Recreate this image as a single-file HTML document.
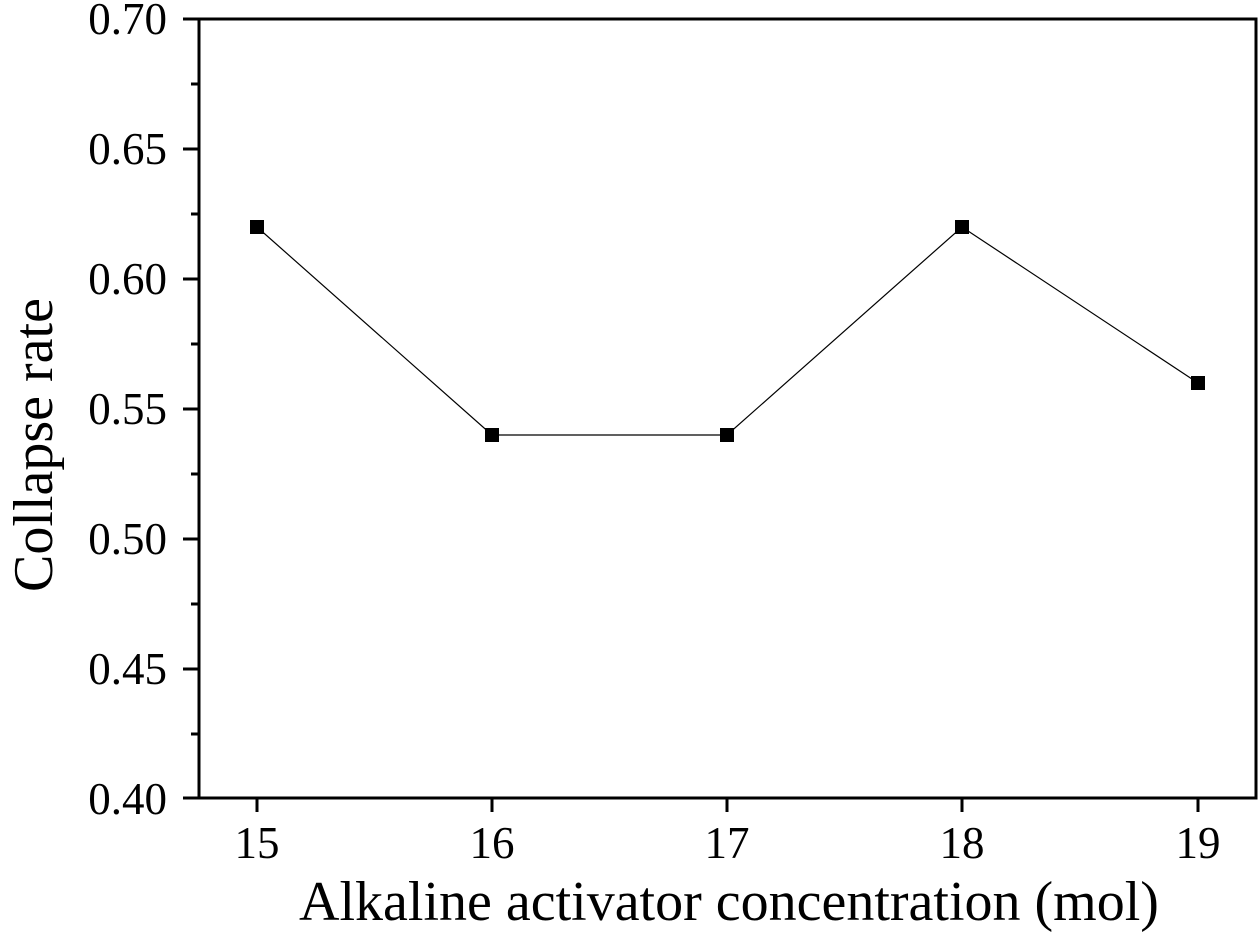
<!DOCTYPE html>
<html><head><style>body{margin:0;background:#fff}svg{display:block}</style></head><body>
<svg width="1260" height="933" xmlns="http://www.w3.org/2000/svg" font-family="Liberation Serif, serif">
<rect width="1260" height="933" fill="#fff"/>
<g stroke="#000" stroke-width="3" fill="none">
<rect x="199" y="19" width="1057" height="779"/>
<path d="M183 19H199M183 149H199M183 279H199M183 409H199M183 539H199M183 669H199M183 798H199"/>
<path d="M191 84H199M191 214H199M191 344H199M191 474H199M191 604H199M191 734H199"/>
<path d="M257 798V812M492 798V812M727 798V812M962 798V812M1198 798V812"/>
</g>
<g font-size="45" text-anchor="end" fill="#000">
<text x="167" y="34">0.70</text>
<text x="167" y="164">0.65</text>
<text x="167" y="294">0.60</text>
<text x="167" y="424">0.55</text>
<text x="167" y="554">0.50</text>
<text x="167" y="684">0.45</text>
<text x="167" y="814">0.40</text>
</g>
<g font-size="45" text-anchor="middle" fill="#000">
<text x="257" y="858">15</text>
<text x="492" y="858">16</text>
<text x="727" y="858">17</text>
<text x="962" y="858">18</text>
<text x="1198" y="858">19</text>
<text x="729" y="920" font-size="56">Alkaline activator concentration (mol)</text>
<text transform="translate(52,445) rotate(-90)" font-size="56">Collapse rate</text>
</g>
<polyline points="257,227 492,435 727,435 962,227 1198,383" fill="none" stroke="#000" stroke-width="1.2"/>
<g fill="#000">
<rect x="250" y="220" width="14" height="14"/>
<rect x="485" y="428" width="14" height="14"/>
<rect x="720" y="428" width="14" height="14"/>
<rect x="955" y="220" width="14" height="14"/>
<rect x="1191" y="376" width="14" height="14"/>
</g>
</svg>
</body></html>
